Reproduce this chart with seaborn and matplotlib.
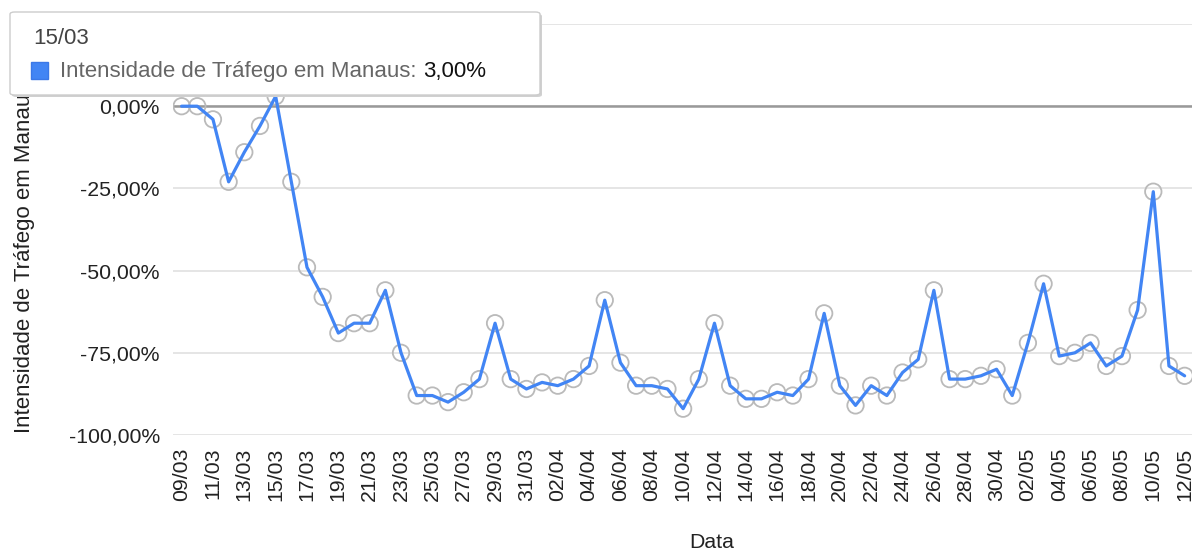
import pandas as pd
import seaborn as sns
import matplotlib.pyplot as plt
from matplotlib.patches import FancyBboxPatch, Rectangle

# daily traffic intensity change in Manaus (%), 09/03 .. 12/05
dates = pd.date_range("2020-03-09", "2020-05-12", freq="D")
date_labels = [d.strftime("%d/%m") for d in dates]
intensity = [
    0, 0, -4, -23, -14, -6, 3, -23, -49, -58,
    -69, -66, -66, -56, -75, -88, -88, -90, -87, -83,
    -66, -83, -86, -84, -85, -83, -79, -59, -78, -85,
    -85, -86, -92, -83, -66, -85, -89, -89, -87, -88,
    -83, -63, -85, -91, -85, -88, -81, -77, -56, -83,
    -83, -82, -80, -88, -72, -54, -76, -75, -72, -79,
    -76, -62, -26, -79, -82,
]
yticks = [-100, -75, -50, -25, 0, 25]
ytick_labels = ["-100,00%", "-75,00%", "-50,00%", "-25,00%", "0,00%", "25,00%"]

df = pd.DataFrame({"pos": range(len(intensity)), "Data": date_labels,
                   "valor": intensity})

sns.set_style("white")
plt.rcParams["font.family"] = ["Liberation Sans", "DejaVu Sans"]

W, H = 1192, 551
FS = 15.3
fig = plt.figure(figsize=(W / 100, H / 100), dpi=100)
ax = fig.add_axes([173 / W, (H - 435) / H, 1 - 173 / W, (435 - 24) / H])

sns.scatterplot(data=df, x="pos", y="valor", ax=ax, s=140, marker="o",
                facecolor="none", edgecolor="#bababa", linewidth=1.3,
                zorder=3, legend=False)
sns.lineplot(data=df, x="pos", y="valor", ax=ax, color="#4285f4",
             linewidth=2.3, zorder=4)

ax.set_xlim(-0.55, 64.47)
ax.set_ylim(-100, 25)
ax.set_yticks(yticks)
ax.set_yticklabels(ytick_labels)
ax.set_xticks(df["pos"][::2])
ax.set_xticklabels(df["Data"][::2], rotation=90)
ax.tick_params(axis="y", length=0, pad=9.5, labelsize=FS, labelcolor="#222222")
ax.tick_params(axis="x", length=0, pad=9, labelsize=FS, labelcolor="#222222")
ax.set_xlabel("")
ax.set_ylabel("")
for s in ax.spines.values():
    s.set_visible(False)
ax.grid(axis="y", color="#e3e3e3", linewidth=1.3)
ax.grid(axis="x", visible=False)
ax.axhline(0, color="#999999", linewidth=1.8, zorder=2)

fig.text(712 / W, (H - 543) / H, "Data", ha="center", va="center",
         fontsize=FS, color="#222222")
fig.text(25 / W, (H - 433) / H, "Intensidade de Tráfego em Manaus",
         rotation=90, ha="center", va="bottom", fontsize=16, color="#222222")

# tooltip box for 15/03
shadow = FancyBboxPatch((12 / W, (H - 97) / H), 530 / W, 83 / H,
                        boxstyle="round,pad=0,rounding_size=0.004",
                        transform=fig.transFigure, facecolor="#d0d0d0",
                        edgecolor="none", zorder=10)
box = FancyBboxPatch((10 / W, (H - 95) / H), 530 / W, 83 / H,
                     boxstyle="round,pad=0,rounding_size=0.004",
                     transform=fig.transFigure, facecolor="white",
                     edgecolor="#cccccc", linewidth=1, zorder=11)
fig.add_artist(shadow)
fig.add_artist(box)
fig.add_artist(Rectangle((31 / W, (H - 79) / H), 17 / W, 17 / H,
                         transform=fig.transFigure, facecolor="#4285f4",
                         edgecolor="#3b78e7", zorder=12))
fig.text(33 / W, (H - 38) / H, "15/03", ha="left", va="center",
         fontsize=16, color="#444444", zorder=12)
t1 = fig.text(60 / W, (H - 71) / H, "Intensidade de Tráfego em Manaus: ",
              ha="left", va="center", fontsize=16, color="#666666", zorder=12)
fig.add_artist(plt.Annotation("3,00%", xy=(1, 0.5), xycoords=t1, va="center",
                              ha="left", fontsize=16, color="#111111",
                              zorder=12))

fig.savefig("out.png", dpi=100)
